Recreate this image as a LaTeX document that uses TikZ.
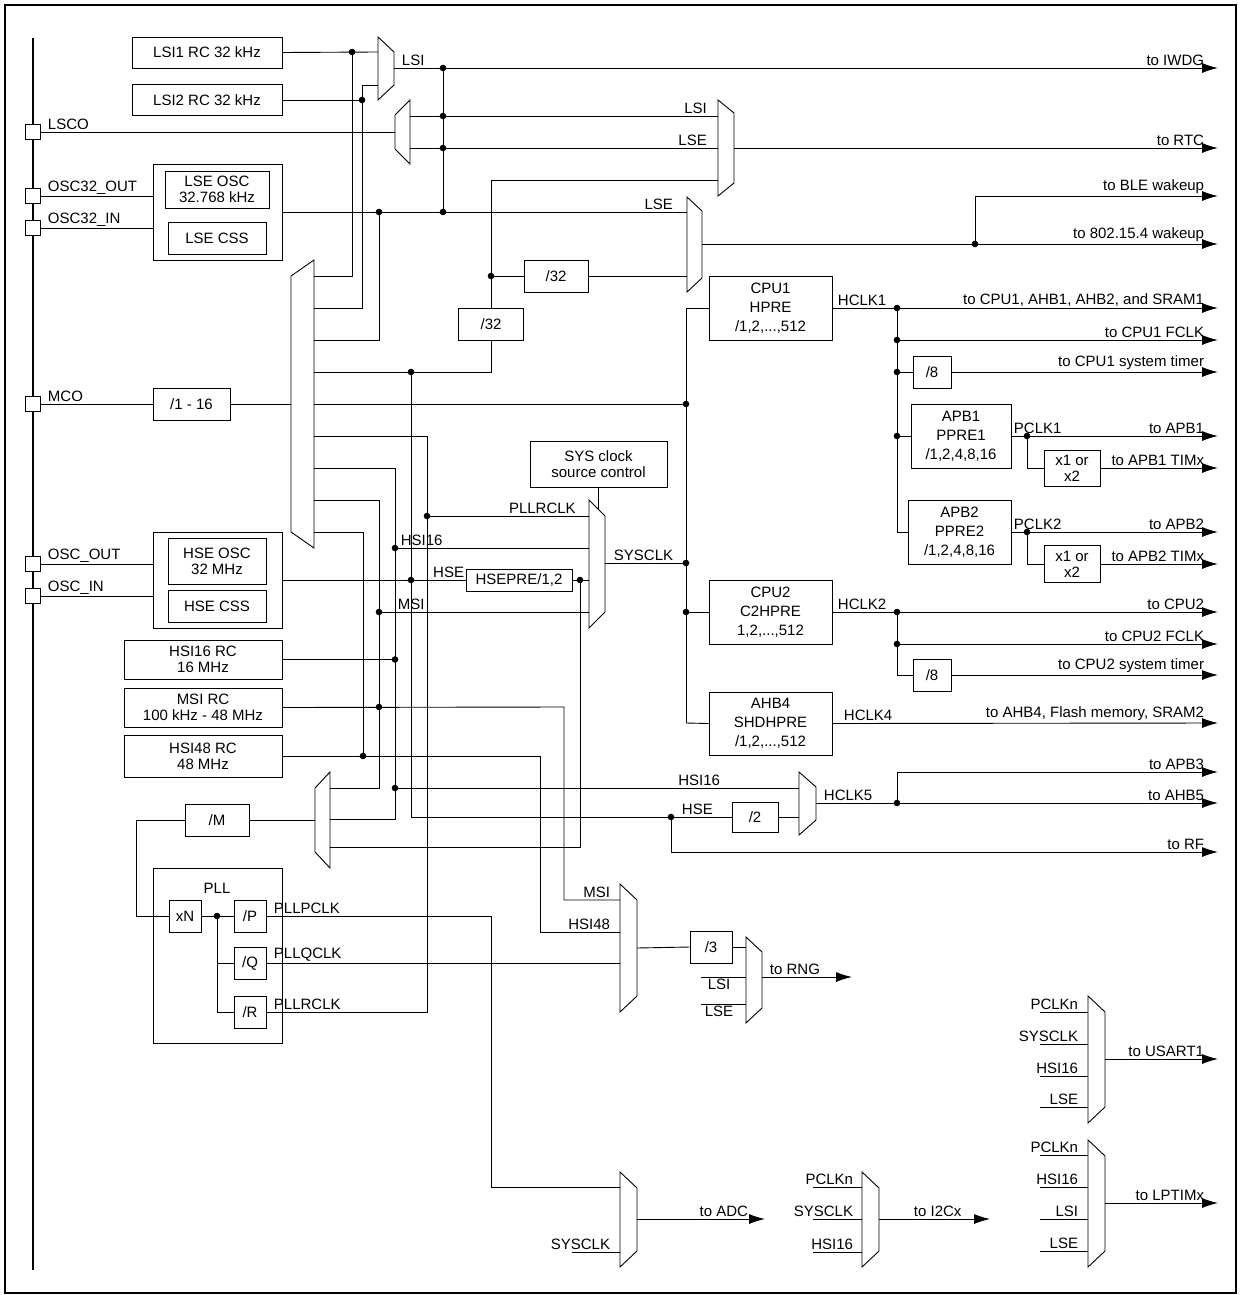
\documentclass[tikz,border=0pt]{standalone}
\usepackage{fontspec}
\setmainfont{Liberation Sans}
\usetikzlibrary{arrows.meta,positioning}

% mux drawn as trapezoid: name, x left, y top, y bottom, width, slant
\newcommand\muxr[6]{\draw (#2,#3) -- ++(#5,#6) -- (#2+#5,#4-#6) -- (#2,#4) -- cycle; \coordinate (#1) at (#2,#3);}
\newcommand\muxl[6]{\draw (#2,#3+#6) -- (#2+#5,#3) -- (#2+#5,#4) -- (#2,#4-#6) -- cycle; \coordinate (#1) at (#2,#3);}
\newcommand\jn[1]{\fill (#1) circle (3.3pt);}
% label of an output arrow, right aligned before the tip
\newcommand\outlbl[2]{\node[lblr] at (1206,#1) {#2};}

\begin{document}
\begin{tikzpicture}[
        x=1pt, y=-1pt, line width=0.9pt,
        font=\fontsize{15}{19}\selectfont,
        blk/.style={draw, align=center, inner sep=1pt},
        pin/.style={draw, fill=white, minimum size=15, inner sep=0},
        arrow/.style={-{Latex[length=16,width=10]}},
        lbl/.style={inner sep=1.5pt, anchor=south west},
        lblr/.style={inner sep=1.5pt, anchor=south east}
    ]
    \useasboundingbox (0,0) rectangle (1239,1295);
    \draw[line width=1.5pt] (5,5) rectangle (1236,1293);

    % bus and pins
    \draw[line width=2.5pt] (33,38) -- (33,1270);
    \node[pin] (lscopin) at (33,132) {};
    \node[pin] (o32out) at (33,196) {};
    \node[pin] (o32in) at (33,228) {};
    \node[pin] (mcopin) at (33,404) {};
    \node[pin] (oscout) at (33,564) {};
    \node[pin] (oscin) at (33,596) {};
    \node[lbl] at (46,132) {LSCO};
    \node[lbl] at (46,196) {OSC32\_OUT};
    \node[lbl] at (46,228) {OSC32\_IN};
    \node[lbl] at (46,404) {MCO};
    \node[lbl] at (46,564) {OSC\_OUT};
    \node[lbl] at (46,596) {OSC\_IN};

    % oscillators and dividers
    \node[blk, minimum width=150, minimum height=31] (lsi1) at (207,52.5) {LSI1 RC 32 kHz};
    \node[blk, minimum width=150, minimum height=31] (lsi2) at (207,100) {LSI2 RC 32 kHz};
    \node[blk, minimum width=129, minimum height=96] (lsebox) at (217.5,212) {};
    \node[blk, minimum width=104, minimum height=37] (lseosc) at (217,189.5) {LSE OSC\\[-3pt]32.768 kHz};
    \node[blk, minimum width=98, minimum height=32] (lsecss) at (217,238) {LSE CSS};
    \node[blk, minimum width=64, minimum height=32] (div32a) at (556,276) {/32};
    \node[blk, minimum width=65, minimum height=32] (div32b) at (491,324) {/32};
    \node[blk, minimum width=77, minimum height=32] (mcodiv) at (191.5,404) {/1 - 16};
    \node[blk, minimum width=137, minimum height=46] (sysctl) at (598.5,464) {SYS clock\\[-3pt]source control};
    \node[blk, minimum width=129, minimum height=96] (hsebox) at (217.5,580) {};
    \node[blk, minimum width=98, minimum height=46] (hseosc) at (217,561) {HSE OSC\\[-3pt]32 MHz};
    \node[blk, minimum width=98, minimum height=32] (hsecss) at (217,606) {HSE CSS};
    \node[blk, minimum width=106, minimum height=22] (hsepre) at (519,580) {HSEPRE/1,2};
    \node[blk, minimum width=158, minimum height=39] (hsi16) at (203,659.5) {HSI16 RC\\[-3pt]16 MHz};
    \node[blk, minimum width=158, minimum height=39] (msirc) at (203,707.5) {MSI RC\\[-3pt]100 kHz - 48 MHz};
    \node[blk, minimum width=158, minimum height=42] (hsi48) at (203,756) {HSI48 RC\\[-3pt]48 MHz};
    \node[blk, minimum width=64, minimum height=32] (divm) at (217,820) {/M};
    \node[blk, minimum width=129, minimum height=175] (pll) at (217.5,955.5) {};
    \node at (217,888) {PLL};
    \node[blk, minimum width=32, minimum height=32] (xn) at (185,916) {xN};
    \node[blk, minimum width=32, minimum height=32] (divp) at (250,916) {/P};
    \node[blk, minimum width=32, minimum height=32] (divq) at (250,963.5) {/Q};
    \node[blk, minimum width=32, minimum height=32] (divr) at (250,1012) {/R};
    \node[blk, minimum width=42, minimum height=32] (div3) at (711,947) {/3};
    \node[blk, minimum width=46, minimum height=30] (div2) at (755,817) {/2};

    % prescalers
    \node[blk, minimum width=123, minimum height=64] (cpu1) at (770.5,308) {CPU1\\HPRE\\/1,2,...,512};
    \node[blk, minimum width=38, minimum height=32] (div8a) at (932,372) {/8};
    \node[blk, minimum width=100, minimum height=64] (apb1) at (961,436) {APB1\\PPRE1\\/1,2,4,8,16};
    \node[blk, minimum width=56, minimum height=36] (x12a) at (1072,468) {x1 or\\[-3pt]x2};
    \node[blk, minimum width=103, minimum height=64] (apb2) at (959.5,532) {APB2\\PPRE2\\/1,2,4,8,16};
    \node[blk, minimum width=56, minimum height=37] (x12b) at (1072,564) {x1 or\\[-3pt]x2};
    \node[blk, minimum width=123, minimum height=64] (cpu2) at (770.5,612) {CPU2\\C2HPRE\\1,2,...,512};
    \node[blk, minimum width=38, minimum height=32] (div8b) at (932,675) {/8};
    \node[blk, minimum width=123, minimum height=63] (ahb4) at (770.5,723.5) {AHB4\\SHDHPRE\\/1,2,...,512};

    % muxes
    \muxr{lsimux}{378}{37}{100}{16}{15}
    \muxl{lscomux}{395}{100}{164}{15}{15}
    \muxr{rtcmux}{718}{100}{196}{16}{13}
    \muxr{blemux}{687}{197}{292}{15}{14}
    \muxl{mcomux}{291}{260}{548}{23}{16}
    \muxr{sysmux}{589}{500}{628}{16}{16}
    \muxl{pllmux}{315}{772}{868}{15}{16}
    \muxr{h5mux}{799}{772}{835}{17}{15}
    \muxr{rngmux}{620}{884}{1012}{17}{16}
    \muxr{rng2mux}{746}{937}{1023}{16}{15}
    \muxr{adcmux}{620}{1172}{1267}{17}{16}
    \muxr{i2cmux}{862}{1172}{1267}{17}{16}
    \muxr{usmux}{1088}{996}{1123}{17}{16}
    \muxr{lptmux}{1088}{1140}{1267}{17}{16}

    % LSI / LSE
    \draw (lsi1.east) -- (378,52);
    \draw (lsi2.east) -- (362,100) -- (362,85) -- (378,85);
    \draw[arrow] (394,68) -- (1218,68);
    \outlbl{68}{to IWDG}
    \node[lbl] at (400,68) {LSI};
    \draw (352,52) -- (352,276) -- (314,276);
    \draw (362,100) -- (362,308) -- (314,308);
    \draw (443,68) -- (443,212);
    \draw (410,116) -- (718,116) node[lblr, pos=0.97] {LSI};
    \draw (410,148) -- (718,148) node[lblr, pos=0.97] {LSE};
    \draw (lscopin) -- (395,132);
    \draw[arrow] (734,148) -- (1218,148);
    \outlbl{148}{to RTC}
    \draw (491,180) -- (718,180);
    \draw (491,180) -- (div32b.north);
    \draw (491,276) -- (div32a.west);
    \draw (div32a.east) -- (687,276);
    \draw (div32b.south) -- (491,372) -- (314,372);
    \draw (lsebox.east |- 0,212) -- (687,212) node[lblr, pos=0.97] {LSE};
    \draw (379,212) -- (379,340) -- (314,340);
    \draw (o32out) -- (153,196);
    \draw (o32in) -- (153,228);
    \draw[arrow] (702,244) -- (1218,244);
    \outlbl{244}{to 802.15.4 wakeup}
    \draw[arrow] (975,244) -- (975,196) -- (1218,196);
    \outlbl{196}{to BLE wakeup}
    \jn{352,52} \jn{362,100} \jn{443,68} \jn{443,116} \jn{443,148} \jn{443,212}
    \jn{379,212} \jn{491,276} \jn{411,372} \jn{975,244}

    % MCO and system clock
    \draw (mcopin) -- (mcodiv.west);
    \draw (mcodiv.east) -- (291,404);
    \draw (314,404) -- (686,404);
    \draw (314,436) -- (427,436) -- (427,1012) -- (divr.east);
    \draw (427,516) -- (589,516) node[lblr, pos=0.93] {PLLRCLK};
    \draw (314,468) -- (395,468) -- (395,819) -- (330,819);
    \draw (395,548) -- (589,548) node[lbl, pos=0.02] {HSI16};
    \draw (314,500) -- (379,500) -- (379,788) -- (330,788);
    \draw (379,612) -- (589,612) node[lbl, pos=0.08] {MSI};
    \draw (314,532) -- (363,532) -- (363,756);
    \draw (hsebox.east |- 0,580) -- (hsepre.west);
    \node[lblr] at (466,580) {HSE};
    \draw (hsepre.east) -- (589,580);
    \draw (580,580) -- (580,847) -- (330,847);
    \draw (411,372) -- (411,817) -- (div2.west);
    \draw[arrow] (671,817) -- (671,852) -- (1218,852);
    \outlbl{852}{to RF}
    \node[lbl] at (680,817) {HSE};
    \draw (oscout) -- (153,564);
    \draw (oscin) -- (153,596);
    \draw (sysctl.south) -- (598.5,509);
    \draw (605,563) -- (686,563);
    \node[lbl] at (612,563) {SYSCLK};
    \draw (hsi16.east) -- (395,659.5);
    \draw (msirc.east) -- (564,707) -- (564,900) -- (620,900);
    \node[lblr] at (612,900) {MSI};
    \draw (hsi48.east) -- (540,756) -- (540,932) -- (620,932);
    \node[lblr] at (612,932) {HSI48};
    \draw (395,788) -- (799,788);
    \node[lblr] at (722,788) {HSI16};
    \draw (div2.east) -- (799,817);
    \jn{686,404} \jn{427,516} \jn{395,548} \jn{379,612} \jn{411,580} \jn{580,580}
    \jn{395,659.5} \jn{379,707} \jn{363,756} \jn{395,788} \jn{671,817} \jn{686,563} \jn{686,612}

    % AHB / APB tree
    \draw (686,308) -- (686,723);
    \draw (686,308) -- (cpu1.west);
    \draw (686,612) -- (cpu2.west);
    \draw (686,723) -- (ahb4.west);
    \draw[arrow] (cpu1.east) -- (1218,308);
    \outlbl{308}{to CPU1, AHB1, AHB2, and SRAM1}
    \node[lbl] at (836,308) {HCLK1};
    \draw (897,308) -- (897,532) -- (apb2.west);
    \draw[arrow] (897,340) -- (1218,340);
    \outlbl{340}{to CPU1 FCLK}
    \draw (897,372) -- (div8a.west);
    \draw[arrow] (div8a.east) -- (1218,372);
    \outlbl{372}{to CPU1 system timer}
    \draw (897,436) -- (apb1.west);
    \draw[arrow] (apb1.east) -- (1218,436);
    \outlbl{436}{to APB1}
    \node[lbl] at (1012,436) {PCLK1};
    \draw (1027,436) -- (1027,468) -- (x12a.west);
    \draw[arrow] (x12a.east) -- (1218,468);
    \outlbl{468}{to APB1 TIMx}
    \draw[arrow] (apb2.east) -- (1218,532);
    \outlbl{532}{to APB2}
    \node[lbl] at (1012,532) {PCLK2};
    \draw (1027,532) -- (1027,564) -- (x12b.west);
    \draw[arrow] (x12b.east) -- (1218,564);
    \outlbl{564}{to APB2 TIMx}
    \draw[arrow] (cpu2.east) -- (1218,612);
    \outlbl{612}{to CPU2}
    \node[lbl] at (836,612) {HCLK2};
    \draw (897,612) -- (897,675) -- (div8b.west);
    \draw[arrow] (897,644) -- (1218,644);
    \outlbl{644}{to CPU2 FCLK}
    \draw[arrow] (div8b.east) -- (1218,675);
    \outlbl{675}{to CPU2 system timer}
    \draw[arrow] (ahb4.east) -- (1218,723);
    \outlbl{723}{to AHB4, Flash memory, SRAM2}
    \node[lbl] at (842,723) {HCLK4};
    \draw[arrow] (816,803) -- (1218,803);
    \outlbl{803}{to AHB5}
    \node[lbl] at (822,803) {HCLK5};
    \draw[arrow] (897,803) -- (897,772) -- (1218,772);
    \outlbl{772}{to APB3}
    \jn{897,308} \jn{897,340} \jn{897,372} \jn{897,436} \jn{1027,436} \jn{1027,532}
    \jn{897,612} \jn{897,644} \jn{897,803}

    % PLL
    \draw (315,820) -- (divm.east);
    \draw (divm.west) -- (136,820) -- (136,916) -- (xn.west);
    \draw (xn.east) -- (divp.west);
    \draw (217,916) -- (217,1012) -- (divr.west);
    \draw (217,963.5) -- (divq.west);
    \jn{217,916}
    \draw (divp.east) -- (491,916) -- (491,1187) -- (620,1187);
    \draw (divq.east) -- (620,963.5);
    \node[lbl] at (272,916) {PLLPCLK};
    \node[lbl] at (272,963.5) {PLLQCLK};
    \node[lbl] at (272,1012) {PLLRCLK};

    % peripheral muxes
    \draw (637,948) -- (div3.west);
    \draw (div3.east) -- (746,947);
    \draw (701,977) -- (746,977);
    \draw (701,1004) -- (746,1004);
    \node[anchor=north, inner sep=1pt] at (719,978) {LSI};
    \node[anchor=north, inner sep=1pt] at (719,1005) {LSE};
    \draw[arrow] (762,977) -- (852,977);
    \node[lbl] at (768,977) {to RNG};
    \draw (572,1252) -- (620,1252);
    \node[lblr] at (612,1252) {SYSCLK};
    \draw[arrow] (637,1219) -- (765,1219);
    \node[lblr] at (750,1219) {to ADC};
    \foreach \y/\t in {1187/PCLKn, 1219/SYSCLK, 1252/HSI16} {
        \draw (813,\y) -- (862,\y);
        \node[lblr] at (855,\y) {\t};
    }
    \draw[arrow] (879,1219) -- (990,1219);
    \node[lbl] at (912,1219) {to I2Cx};
    \foreach \y/\t in {1012/PCLKn, 1044/SYSCLK, 1076/HSI16, 1107/LSE} {
        \draw (1040,\y) -- (1088,\y);
        \node[lblr] at (1080,\y) {\t};
    }
    \draw[arrow] (1105,1059) -- (1218,1059);
    \outlbl{1059}{to USART1}
    \foreach \y/\t in {1155/PCLKn, 1187/HSI16, 1219/LSI, 1251/LSE} {
        \draw (1040,\y) -- (1088,\y);
        \node[lblr] at (1080,\y) {\t};
    }
    \draw[arrow] (1105,1203) -- (1218,1203);
    \outlbl{1203}{to LPTIMx}
\end{tikzpicture}
\end{document}
